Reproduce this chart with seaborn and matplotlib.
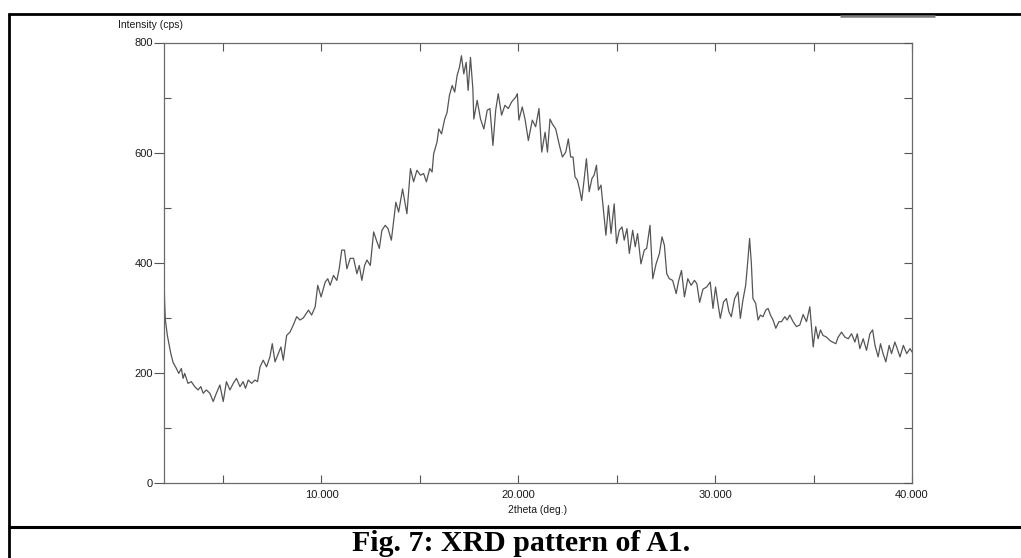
import matplotlib
matplotlib.use("Agg")
import matplotlib.pyplot as plt
from matplotlib.lines import Line2D
from matplotlib.ticker import FixedLocator, FuncFormatter
import seaborn as sns
import pandas as pd

# ---- data ----
two_theta = [2.00, 2.03, 2.07, 2.17, 2.34, 2.46, 2.63, 2.75, 2.88, 2.97, 3.05, 3.22, 3.39, 3.56,
             3.73, 3.87, 3.99, 4.15, 4.33, 4.50, 4.66, 4.84, 5.01, 5.17, 5.35, 5.52, 5.68, 5.86,
             6.02, 6.14, 6.28, 6.45, 6.62, 6.75, 6.88, 7.04, 7.21, 7.38, 7.50, 7.64, 7.81, 7.94,
             8.06, 8.23, 8.40, 8.57, 8.74, 8.91, 9.08, 9.34, 9.50, 9.68, 9.81, 9.98, 10.19, 10.32,
             10.44, 10.61, 10.78, 10.90, 11.03, 11.17, 11.29, 11.46, 11.63, 11.80, 11.92, 12.05,
             12.19, 12.31, 12.48, 12.65, 12.79, 12.94, 13.07, 13.24, 13.38, 13.55, 13.67, 13.78,
             13.92, 14.12, 14.34, 14.52, 14.68, 14.85, 15.03, 15.19, 15.33, 15.50, 15.62, 15.70,
             15.87, 15.96, 16.10, 16.26, 16.38, 16.50, 16.64, 16.77, 16.89, 17.01, 17.11, 17.23,
             17.35, 17.45, 17.57, 17.69, 17.74, 17.91, 18.08, 18.25, 18.42, 18.56, 18.71, 18.85,
             18.98, 19.15, 19.32, 19.49, 19.66, 19.87, 19.95, 20.03, 20.20, 20.34, 20.51, 20.71,
             20.88, 21.05, 21.19, 21.36, 21.48, 21.61, 21.73, 21.90, 22.07, 22.24, 22.41, 22.54,
             22.66, 22.78, 22.88, 23.00, 23.12, 23.22, 23.34, 23.46, 23.60, 23.74, 23.85, 23.97,
             24.07, 24.20, 24.31, 24.45, 24.58, 24.71, 24.87, 24.99, 25.13, 25.27, 25.38, 25.52,
             25.64, 25.81, 25.94, 26.06, 26.23, 26.40, 26.52, 26.69, 26.83, 27.00, 27.17, 27.30,
             27.42, 27.54, 27.67, 27.84, 28.02, 28.15, 28.29, 28.44, 28.61, 28.78, 28.95, 29.07,
             29.21, 29.38, 29.57, 29.75, 29.89, 30.02, 30.14, 30.26, 30.43, 30.57, 30.70, 30.82,
             30.99, 31.16, 31.28, 31.41, 31.55, 31.66, 31.75, 31.84, 31.92, 32.06, 32.18, 32.30,
             32.43, 32.57, 32.69, 32.81, 32.94, 33.08, 33.24, 33.37, 33.54, 33.66, 33.79, 33.96,
             34.13, 34.30, 34.47, 34.64, 34.81, 34.98, 35.11, 35.23, 35.35, 35.48, 35.66, 35.82,
             35.96, 36.13, 36.25, 36.42, 36.59, 36.76, 36.93, 37.10, 37.22, 37.35, 37.52, 37.69,
             37.86, 38.00, 38.12, 38.28, 38.40, 38.53, 38.67, 38.84, 38.96, 39.13, 39.25, 39.39,
             39.56, 39.73, 39.90, 40.00]
intensity = [380, 330, 296, 268, 236, 219, 208, 199, 208, 190, 199, 181, 184, 175,
             169, 175, 163, 169, 163, 148, 163, 178, 148, 184, 169, 181, 190, 175,
             184, 172, 187, 181, 187, 184, 211, 223, 211, 229, 253, 220, 235, 247,
             223, 268, 274, 287, 302, 296, 300, 314, 305, 320, 359, 338, 365, 371,
             359, 377, 368, 389, 423, 423, 389, 408, 408, 380, 395, 368,
             395, 405, 395, 456, 441, 426, 459, 468, 462, 441, 477, 510,
             492, 534, 489, 571, 547, 568, 559, 562, 547, 571, 565, 598,
             619, 643, 634, 661, 673, 704, 722, 710, 740, 755, 776, 743,
             764, 713, 773, 716, 661, 695, 661, 643, 677, 680, 613, 677,
             707, 668, 686, 680, 692, 701, 707, 659, 683, 661, 622, 659,
             647, 680, 601, 637, 601, 661, 652, 643, 616, 592, 601, 625,
             592, 592, 556, 550, 532, 513, 550, 589, 529, 553, 559, 577,
             532, 541, 501, 450, 504, 453, 507, 435, 459, 465, 441, 462,
             417, 459, 429, 453, 398, 423, 426, 468, 371, 398, 417, 447,
             432, 380, 371, 368, 344, 368, 386, 338, 371, 359, 368, 362,
             328, 352, 356, 365, 317, 356, 326, 299, 329, 335, 311, 302,
             335, 347, 299, 332, 359, 404, 444, 398, 335, 326, 296, 305,
             302, 314, 317, 305, 296, 281, 293, 293, 302, 296, 305, 293,
             284, 287, 306, 293, 320, 247, 284, 262, 278, 268, 265, 259,
             256, 253, 265, 274, 265, 262, 271, 256, 271, 244, 262, 241,
             271, 278, 250, 229, 253, 235, 220, 250, 235, 256, 244, 229,
             250, 235, 244, 238]

x_major = [10, 20, 30, 40]
x_minor = [5, 15, 25, 35]
y_major = [0, 200, 400, 600, 800]
y_minor = [100, 300, 500, 700]
y_right = [0, 100, 200, 300, 400, 500, 600, 700, 800]

y_title = "Intensity (cps)"
x_title = "2theta (deg.)"
caption = "Fig. 7: XRD pattern of A1."

df = pd.DataFrame({"two_theta": two_theta, "intensity": intensity})

# ---- figure ----
sns.set_theme(style="white")
plt.rcParams["font.family"] = ["Liberation Sans", "DejaVu Sans"]

W, H = 1021, 558
fig = plt.figure(figsize=(W / 100, H / 100), dpi=100)
fig.patch.set_facecolor("white")

left, right, bottom, top = 164, 912, 483, 42.5
ax = fig.add_axes([left / W, 1 - bottom / H, (right - left) / W, (bottom - top) / H])
ax.set_facecolor("white")

sns.lineplot(data=df, x="two_theta", y="intensity", ax=ax, color="#555555",
             linewidth=0.9, sort=False, estimator=None)

ax.set_xlim(2, 40)
ax.set_ylim(0, 800)
ax.set_xlabel("")
ax.set_ylabel("")

for s in ax.spines.values():
    s.set_color("#6a6a6a")
    s.set_linewidth(0.9)

ax.xaxis.set_major_locator(FixedLocator(x_major))
ax.xaxis.set_minor_locator(FixedLocator(x_minor))
ax.xaxis.set_major_formatter(FuncFormatter(lambda v, p: f"{v:.3f}"))
ax.yaxis.set_major_locator(FixedLocator(y_major))
ax.yaxis.set_minor_locator(FixedLocator(y_minor))

ax.tick_params(axis="x", which="both", direction="in", top=True, bottom=True,
               length=6, width=0.8, color="#555555", labelsize=8, labelcolor="#1a1a1a", pad=5)
ax.tick_params(axis="y", which="major", direction="out", left=True, right=False,
               length=7, width=0.8, color="#555555", labelsize=8, labelcolor="#1a1a1a", pad=1)
ax.tick_params(axis="y", which="minor", direction="in", left=True, right=False,
               length=5, width=0.8, color="#555555")

axr = ax.twinx()
axr.set_ylim(0, 800)
axr.yaxis.set_major_locator(FixedLocator(y_right))
axr.tick_params(axis="y", direction="in", length=6, width=0.8, color="#555555", labelright=False)
axr.grid(False)
for s in axr.spines.values():
    s.set_visible(False)
ax.grid(False)

fig.text(538 / W, 1 - 510 / H, x_title, ha="center", va="center", fontsize=7.5, color="#1a1a1a")
fig.text(150 / W, 1 - 25 / H, y_title, ha="center", va="center", fontsize=7.5, color="#1a1a1a")

# frame of the figure box and caption separator
fig.add_artist(Line2D([8 / W, 1021 / W], [1 - 13.5 / H, 1 - 13.5 / H], color="black", lw=2.0,
                      solid_capstyle="butt", transform=fig.transFigure))
fig.add_artist(Line2D([9 / W, 9 / W], [1 - 13 / H, 0], color="black", lw=2.0,
                      solid_capstyle="butt", transform=fig.transFigure))
fig.add_artist(Line2D([8 / W, 1021 / W], [1 - 527 / H, 1 - 527 / H], color="black", lw=2.2,
                      solid_capstyle="butt", transform=fig.transFigure))
fig.add_artist(Line2D([840 / W, 935 / W], [1 - 16 / H, 1 - 16 / H], color="#7a7a7a", lw=1.8,
                      solid_capstyle="butt", transform=fig.transFigure))

fig.text(521 / W, 1 - 551 / H, caption, ha="center", va="baseline", fontsize=21.5,
         fontweight="bold", family=["Liberation Serif", "DejaVu Serif"], color="black")

fig.savefig("out.png", dpi=100, facecolor="white")
